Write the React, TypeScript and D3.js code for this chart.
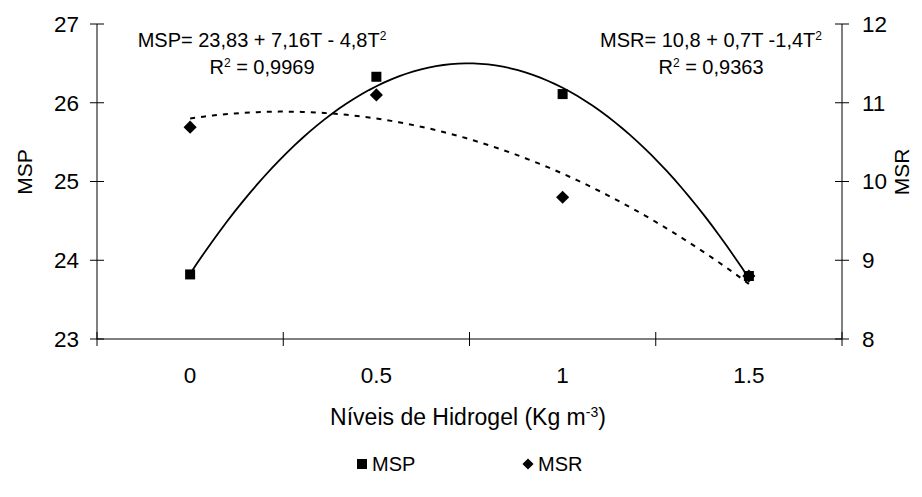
import React from 'react'
import * as d3 from 'd3'

// categories on x (hydrogel levels)
const categories = ['0', '0.5', '1', '1.5']
const levels = [0, 0.5, 1, 1.5]
// observed means
const mspValues = [23.82, 26.33, 26.11, 23.8]
const msrValues = [10.69, 11.1, 9.8, 8.8]
// polynomial trendline coefficients (a + bT + cT^2), as printed on the chart
const mspCoef = [23.83, 7.16, -4.8]
const msrCoef = [10.8, 0.7, -1.4]
const leftTicks = [23, 24, 25, 26, 27]
const rightTicks = [8, 9, 10, 11, 12]

const W = 922
const H = 497
const left = 97
const right = 842
const top = 24
const bottom = 339
const font = '"Liberation Sans", Arial, sans-serif'

const App = () => {
  const band = d3.scaleBand<string>().domain(categories).range([left, right])
  const xLin = d3.scaleLinear()
    .domain([0, 1.5])
    .range([band('0')! + band.bandwidth() / 2, band('1.5')! + band.bandwidth() / 2])
  const yL = d3.scaleLinear().domain([23, 27]).range([bottom, top])
  const yR = d3.scaleLinear().domain([8, 12]).range([bottom, top])

  const poly = (c: number[]) => (t: number) => c[0] + c[1] * t + c[2] * t * t
  const samples = d3.range(0, 1.5001, 0.02)
  const mspFit = poly(mspCoef)
  const msrFit = poly(msrCoef)
  const mspLine = d3.line<number>().x(t => xLin(t)).y(t => yL(mspFit(t)))
  const msrLine = d3.line<number>().x(t => xLin(t)).y(t => yR(msrFit(t)))

  const boundaries = [...categories.map(c => band(c)!), right]
  const diamond = d3.symbol(d3.symbolDiamond2, 110)()

  return (
    <svg width={W} height={H} style={{ position: 'absolute', left: 0, top: 0, background: '#fff' }}
      fontFamily={font}>
      {/* axes */}
      <line x1={left} x2={left} y1={top} y2={bottom} stroke="#000" />
      <line x1={right} x2={right} y1={top} y2={bottom} stroke="#000" />
      <line x1={left} x2={right} y1={bottom} y2={bottom} stroke="#000" />
      {leftTicks.map(v => (
        <g key={'l' + v}>
          <line x1={left - 7} x2={left + 7} y1={yL(v)} y2={yL(v)} stroke="#000" />
          <text x={79} y={yL(v)} dy="0.35em" textAnchor="end" fontSize={22.5}>{v}</text>
        </g>
      ))}
      {rightTicks.map(v => (
        <g key={'r' + v}>
          <line x1={right - 7} x2={right + 7} y1={yR(v)} y2={yR(v)} stroke="#000" />
          <text x={862} y={yR(v)} dy="0.35em" textAnchor="start" fontSize={22.5}>{v}</text>
        </g>
      ))}
      {boundaries.map((b, i) => (
        <line key={'b' + i} x1={b} x2={b} y1={bottom - 7} y2={bottom + 7} stroke="#000" />
      ))}
      {categories.map(c => (
        <text key={'c' + c} x={band(c)! + band.bandwidth() / 2} y={383} textAnchor="middle" fontSize={22.5}>{c}</text>
      ))}

      {/* axis titles */}
      <text x={468} y={425} textAnchor="middle" fontSize={23}>
        Níveis de Hidrogel (Kg m<tspan dy={-8} fontSize={14}>-3</tspan><tspan dy={8}>)</tspan>
      </text>
      <text transform="translate(32,172) rotate(-90)" textAnchor="middle" fontSize={21}>MSP</text>
      <text transform={`translate(909,172) rotate(-90)`} textAnchor="middle" fontSize={21}>MSR</text>

      {/* trendlines */}
      <path d={mspLine(samples)!} fill="none" stroke="#000" strokeWidth={1.8} />
      <path d={msrLine(samples)!} fill="none" stroke="#000" strokeWidth={2} strokeDasharray="5 6" />

      {/* markers */}
      {levels.map((t, i) => (
        <rect key={'s' + i} x={xLin(t) - 5} y={yL(mspValues[i]) - 5} width={10} height={10} fill="#000" />
      ))}
      {levels.map((t, i) => (
        <path key={'d' + i} d={diamond} transform={`translate(${xLin(t)},${yR(msrValues[i])})`} fill="#000" />
      ))}

      {/* equations */}
      <text x={262} y={47} textAnchor="middle" fontSize={20}>
        MSP= 23,83 + 7,16T - 4,8T<tspan dy={-7} fontSize={12}>2</tspan>
      </text>
      <text x={262} y={74} textAnchor="middle" fontSize={20}>
        R<tspan dy={-7} fontSize={12}>2</tspan><tspan dy={7}> = 0,9969</tspan>
      </text>
      <text x={711} y={47} textAnchor="middle" fontSize={20}>
        MSR= 10,8 + 0,7T -1,4T<tspan dy={-7} fontSize={12}>2</tspan>
      </text>
      <text x={711} y={74} textAnchor="middle" fontSize={20}>
        R<tspan dy={-7} fontSize={12}>2</tspan><tspan dy={7}> = 0,9363</tspan>
      </text>

      {/* legend */}
      <rect x={357} y={459} width={10} height={10} fill="#000" />
      <text x={372} y={471} fontSize={20}>MSP</text>
      <path d={diamond} transform="translate(528,464) scale(0.85)" fill="#000" />
      <text x={538} y={471} fontSize={20}>MSR</text>
    </svg>
  )
}

export default App
